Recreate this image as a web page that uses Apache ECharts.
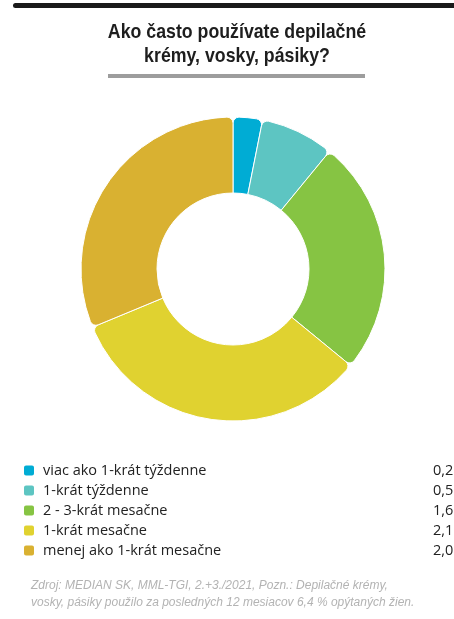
<!DOCTYPE html>
<html>
<head>
<meta charset="utf-8">
<script src="https://cdn.jsdelivr.net/npm/echarts@6/dist/echarts.min.js"></script>
<style>
  html, body { margin: 0; padding: 0; background: #fff; }
  #chart { width: 454px; height: 619px; }
</style>
</head>
<body>
<div id="chart"></div>
<script>
var categories = [
  "viac ako 1-krát týždenne",
  "1-krát týždenne",
  "2 - 3-krát mesačne",
  "1-krát mesačne",
  "menej ako 1-krát mesačne"
];
var values = [0.2, 0.5, 1.6, 2.1, 2.0];
var colors = ["#00acd4", "#5dc5c2", "#86c443", "#e0d230", "#d9b131"];
var titleLines = ["Ako často používate depilačné", "krémy, vosky, pásiky?"];

var chart = echarts.init(document.getElementById("chart"));

chart.setOption({
  animation: false,
  legend: {
    orient: "vertical",
    left: 22,
    top: 463,
    padding: 0,
    itemWidth: 12,
    itemHeight: 12,
    itemGap: 5,
    icon: "roundRect",
    selectedMode: false,
    data: categories,
    formatter: function (name) {
      var v = values[categories.indexOf(name)];
      return "{n|" + name + "}{v|" + v.toFixed(1).replace(".", ",") + " %}";
    },
    textStyle: {
      fontFamily: "Open Sans",
      fontSize: 14.5,
      color: "#222",
      padding: [0, 0, 0, 3],
      rich: {
        n: { width: 390, fontFamily: "Open Sans", fontSize: 14.5, color: "#222", lineHeight: 14 },
        v: { fontFamily: "Open Sans", fontSize: 14.5, color: "#222", lineHeight: 14 }
      }
    }
  },
  series: [{
    type: "pie",
    center: [233, 269],
    radius: [76, 152],
    startAngle: 90,
    clockwise: true,
    label: { show: false },
    labelLine: { show: false },
    emphasis: { disabled: true },
    itemStyle: {
      borderColor: "#fff",
      borderWidth: 1,
      borderRadius: [0, 6]
    },
    data: categories.map(function (c, i) {
      return { name: c, value: values[i], itemStyle: { color: colors[i] } };
    })
  }],
  graphic: [
    {
      type: "rect",
      shape: { x: 13, y: 3, width: 460, height: 5, r: [2.5, 0, 0, 2.5] },
      style: { fill: "#1a1a1a" }
    },
    {
      type: "text",
      x: 237,
      y: 32,
      scaleX: 0.845,
      style: {
        text: titleLines[0],
        fontFamily: "Liberation Sans",
        fontWeight: "bold",
        fontSize: 21,
        fill: "#1e1e1e",
        align: "center",
        verticalAlign: "middle"
      }
    },
    {
      type: "text",
      x: 237,
      y: 56,
      scaleX: 0.845,
      style: {
        text: titleLines[1],
        fontFamily: "Liberation Sans",
        fontWeight: "bold",
        fontSize: 21,
        fill: "#1e1e1e",
        align: "center",
        verticalAlign: "middle"
      }
    },
    {
      type: "rect",
      shape: { x: 108, y: 74, width: 257, height: 4 },
      style: { fill: "#9d9d9d" }
    },
    {
      type: "text",
      left: 31,
      top: 577,
      style: {
        text: "Zdroj: MEDIAN SK, MML-TGI, 2.+3./2021, Pozn.: Depilačné krémy,\nvosky, pásiky použilo za posledných 12 mesiacov 6,4 % opýtaných žien.",
        fontFamily: "Liberation Sans",
        fontStyle: "italic",
        fontSize: 12,
        lineHeight: 17,
        fill: "#b3b3b3"
      }
    }
  ]
});
</script>
</body>
</html>
